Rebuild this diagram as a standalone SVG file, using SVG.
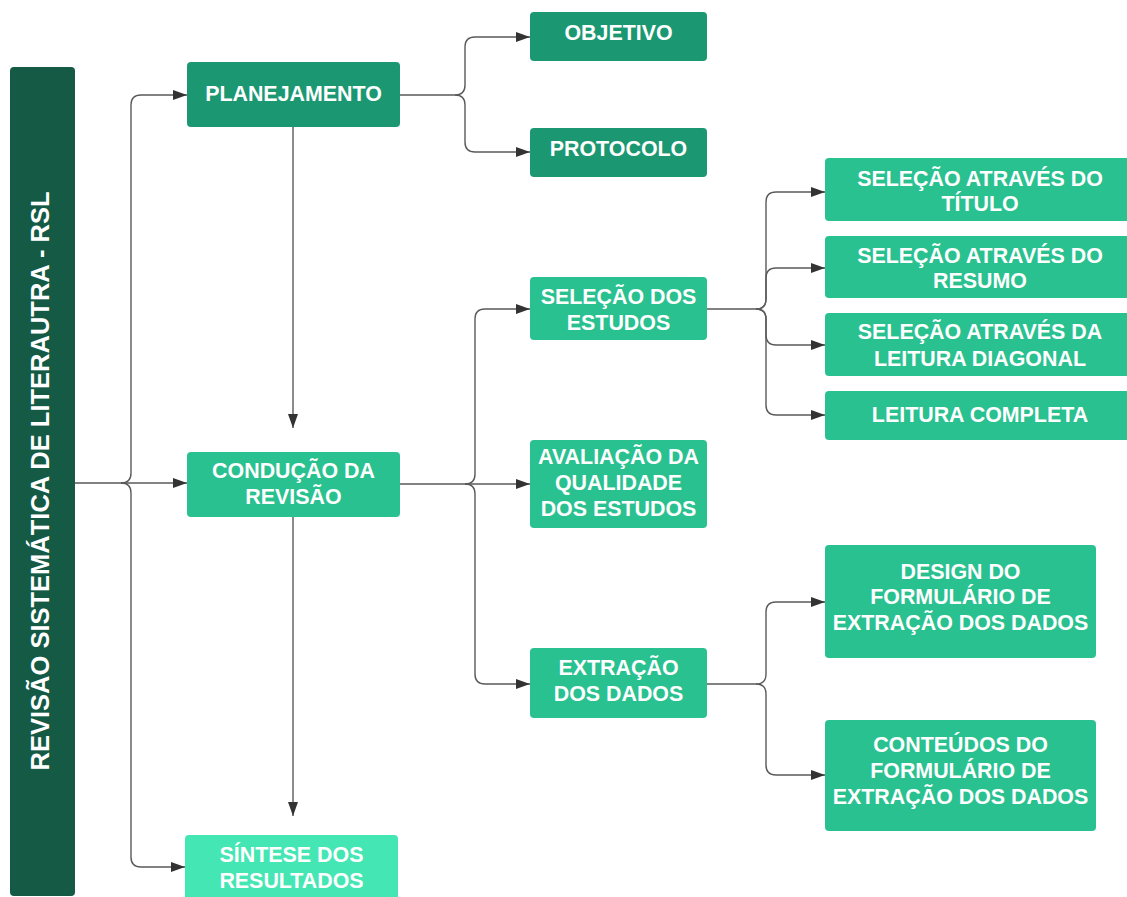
<svg xmlns="http://www.w3.org/2000/svg" width="1127" height="897" viewBox="0 0 1127 897">
  <style>
    .root { fill: #145a45; }
    .dark { fill: #1b9872; }
    .mid { fill: #29c190; }
    .light { fill: #44e6b3; }
    .lbl { font-family: "Liberation Sans", Arial, sans-serif; font-weight: bold; font-size: 21.4px; fill: #ffffff; text-anchor: middle; }
    .title { font-size: 25.5px; }
    .conn { fill: none; stroke: #5a5a5a; stroke-width: 1.4; }
  </style>
  <defs>
    <marker id="arrow" viewBox="0 0 14 10" refX="14" refY="5" markerWidth="14" markerHeight="10" markerUnits="userSpaceOnUse" orient="auto">
      <path d="M0 0 L14 5 L0 10 Z" fill="#333333"/>
    </marker>
  </defs>

  <!-- connectors -->
  <g id="connectors">
    <!-- root to phases -->
    <path class="conn" d="M75 483 H121 Q131 483 131 473 V105 Q131 95 141 95 H187" marker-end="url(#arrow)"/>
    <path class="conn" d="M121 483 H187" marker-end="url(#arrow)"/>
    <path class="conn" d="M121 483 Q131 483 131 493 V857 Q131 867 141 867 H185" marker-end="url(#arrow)"/>
    <!-- planejamento branches -->
    <path class="conn" d="M400 95 H455 Q465 95 465 85 V47 Q465 37 475 37 H530" marker-end="url(#arrow)"/>
    <path class="conn" d="M455 95 Q465 95 465 105 V142 Q465 152 475 152 H530" marker-end="url(#arrow)"/>
    <!-- vertical flow -->
    <path class="conn" d="M293 127 V428" marker-end="url(#arrow)"/>
    <path class="conn" d="M293 517 V816" marker-end="url(#arrow)"/>
    <!-- conducao branches -->
    <path class="conn" d="M400 484 H465 Q475 484 475 474 V319 Q475 309 485 309 H530" marker-end="url(#arrow)"/>
    <path class="conn" d="M465 484 H530" marker-end="url(#arrow)"/>
    <path class="conn" d="M465 484 Q475 484 475 494 V674 Q475 684 485 684 H530" marker-end="url(#arrow)"/>
    <!-- selecao branches -->
    <path class="conn" d="M707 309 H756 Q766 309 766 299 V202 Q766 192 776 192 H825" marker-end="url(#arrow)"/>
    <path class="conn" d="M756 309 Q766 309 766 299 V278 Q766 268 776 268 H825" marker-end="url(#arrow)"/>
    <path class="conn" d="M756 309 Q766 309 766 319 V335 Q766 345 776 345 H825" marker-end="url(#arrow)"/>
    <path class="conn" d="M756 309 Q766 309 766 319 V405 Q766 415 776 415 H825" marker-end="url(#arrow)"/>
    <!-- extracao branches -->
    <path class="conn" d="M707 684 H756 Q766 684 766 674 V612 Q766 602 776 602 H825" marker-end="url(#arrow)"/>
    <path class="conn" d="M756 684 Q766 684 766 694 V765 Q766 775 776 775 H825" marker-end="url(#arrow)"/>
  </g>

  <g id="rsl">
    <rect class="root" x="10" y="67" width="65" height="829" rx="4"/>
    <text class="lbl title" transform="translate(49 481) rotate(-90)">REVISÃO SISTEMÁTICA DE LITERAUTRA - RSL</text>
  </g>

  <g id="planejamento">
    <rect class="dark" x="187" y="62" width="213" height="65" rx="4"/>
    <text class="lbl" x="293.5" y="101">PLANEJAMENTO</text>
  </g>

  <g id="objetivo">
    <rect class="dark" x="530" y="12" width="177" height="49" rx="4"/>
    <text class="lbl" x="618.5" y="40">OBJETIVO</text>
  </g>

  <g id="protocolo">
    <rect class="dark" x="530" y="128" width="177" height="49" rx="4"/>
    <text class="lbl" x="618.5" y="156">PROTOCOLO</text>
  </g>

  <g id="conducao">
    <rect class="mid" x="187" y="452" width="213" height="65" rx="4"/>
    <text class="lbl" x="293.5" y="478">CONDUÇÃO DA</text>
    <text class="lbl" x="293.5" y="504">REVISÃO</text>
  </g>

  <g id="sintese">
    <rect class="light" x="185" y="835" width="213" height="70" rx="4"/>
    <text class="lbl" x="291.5" y="862">SÍNTESE DOS</text>
    <text class="lbl" x="291.5" y="888">RESULTADOS</text>
  </g>

  <g id="selecao">
    <rect class="mid" x="530" y="277" width="177" height="63" rx="4"/>
    <text class="lbl" x="618.5" y="304">SELEÇÃO DOS</text>
    <text class="lbl" x="618.5" y="330">ESTUDOS</text>
  </g>

  <g id="avaliacao">
    <rect class="mid" x="530" y="440" width="177" height="88" rx="4"/>
    <text class="lbl" x="618.5" y="464">AVALIAÇÃO DA</text>
    <text class="lbl" x="618.5" y="490">QUALIDADE</text>
    <text class="lbl" x="618.5" y="516">DOS ESTUDOS</text>
  </g>

  <g id="extracao">
    <rect class="mid" x="530" y="648" width="177" height="70" rx="4"/>
    <text class="lbl" x="618.5" y="675">EXTRAÇÃO</text>
    <text class="lbl" x="618.5" y="701">DOS DADOS</text>
  </g>

  <g id="sel-titulo">
    <rect class="mid" x="825" y="158" width="310" height="63" rx="4"/>
    <text class="lbl" x="980" y="186">SELEÇÃO ATRAVÉS DO</text>
    <text class="lbl" x="980" y="211">TÍTULO</text>
  </g>

  <g id="sel-resumo">
    <rect class="mid" x="825" y="236" width="310" height="62" rx="4"/>
    <text class="lbl" x="980" y="263">SELEÇÃO ATRAVÉS DO</text>
    <text class="lbl" x="980" y="288">RESUMO</text>
  </g>

  <g id="sel-diagonal">
    <rect class="mid" x="825" y="313" width="310" height="63" rx="4"/>
    <text class="lbl" x="980" y="339">SELEÇÃO ATRAVÉS DA</text>
    <text class="lbl" x="980" y="365.5">LEITURA DIAGONAL</text>
  </g>

  <g id="leitura-completa">
    <rect class="mid" x="825" y="391" width="310" height="49" rx="4"/>
    <text class="lbl" x="980" y="422">LEITURA COMPLETA</text>
  </g>

  <g id="design-formulario">
    <rect class="mid" x="825" y="545" width="271" height="113" rx="4"/>
    <text class="lbl" x="960.5" y="579">DESIGN DO</text>
    <text class="lbl" x="960.5" y="604">FORMULÁRIO DE</text>
    <text class="lbl" x="960.5" y="630">EXTRAÇÃO DOS DADOS</text>
  </g>

  <g id="conteudos-formulario">
    <rect class="mid" x="825" y="720" width="271" height="111" rx="4"/>
    <text class="lbl" x="960.5" y="752">CONTEÚDOS DO</text>
    <text class="lbl" x="960.5" y="778">FORMULÁRIO DE</text>
    <text class="lbl" x="960.5" y="804">EXTRAÇÃO DOS DADOS</text>
  </g>
</svg>
